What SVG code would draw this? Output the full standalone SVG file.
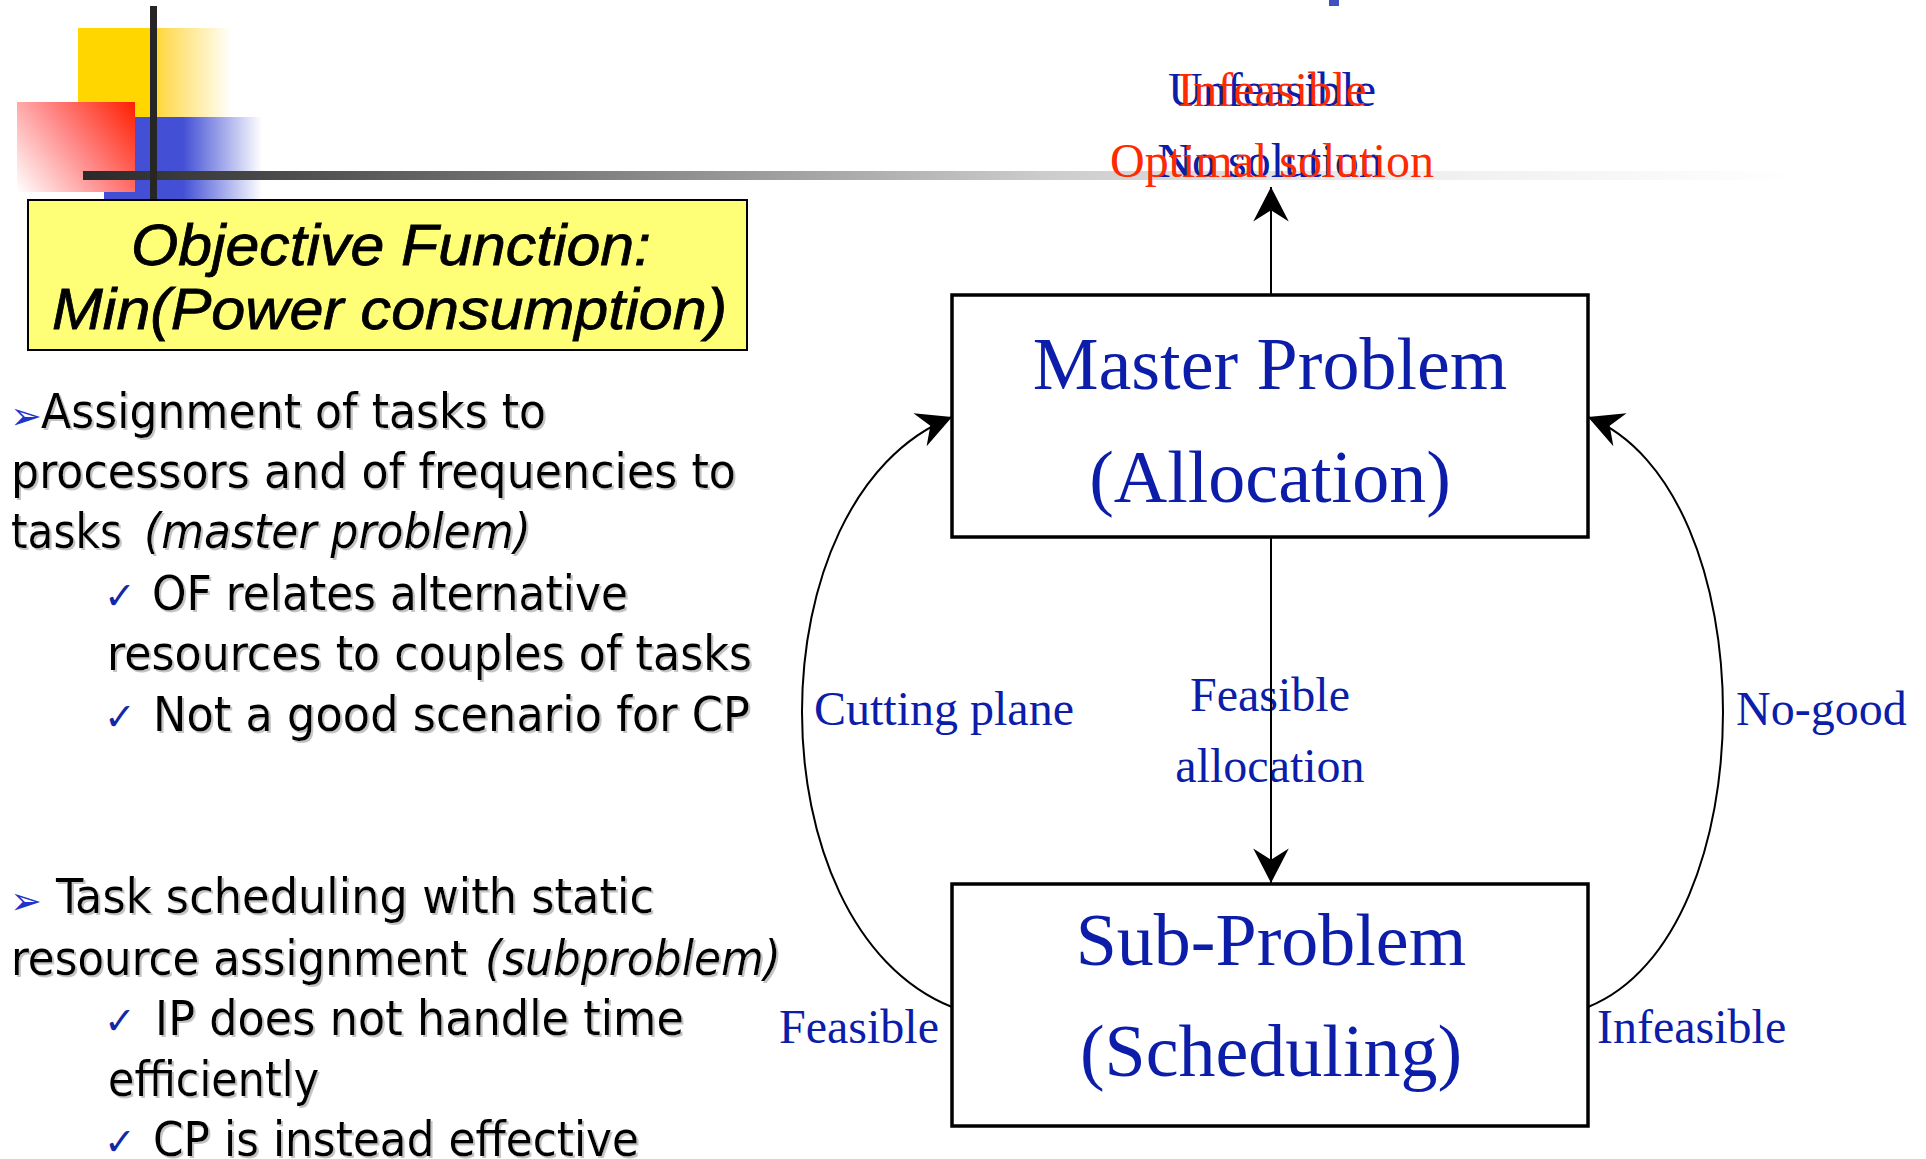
<svg xmlns="http://www.w3.org/2000/svg" width="1926" height="1159" viewBox="0 0 1926 1159">
  <style>
    .body{font-family:"DejaVu Sans Condensed","DejaVu Sans",sans-serif;font-stretch:condensed;font-size:48px;fill:#000}
    .it{font-style:italic}
    .chk{font-family:"DejaVu Sans",sans-serif;font-size:38px;fill:#1428A6}
    .bul{font-family:"DejaVu Sans",sans-serif;font-size:38px;fill:#2233CC}
    .lbl{font-family:"Liberation Serif","Times New Roman",serif;font-size:48px;fill:#0B1DA9}
    .red{fill:#FF2A00}
    .title{font-family:"Liberation Serif","Times New Roman",serif;font-size:74px;fill:#0B1DA9;text-anchor:middle}
    .box{fill:#fff;stroke:#000;stroke-width:3.5}
    .edge{fill:none;stroke:#000;stroke-width:2;marker-end:url(#arrow)}
    .obj{font-family:"Liberation Sans",Arial,sans-serif;font-style:italic;font-size:58px;fill:#000;stroke:#000;stroke-width:0.8}
  </style>
  <defs>
    <marker id="arrow" markerUnits="userSpaceOnUse" markerWidth="40" markerHeight="40" viewBox="-34 -18 36 36" refX="0" refY="0" orient="auto">
      <path d="M0,0 L-31,-16 L-21,0 L-31,16 Z" fill="#000"/>
    </marker>
    <linearGradient id="gYellow" gradientUnits="userSpaceOnUse" x1="78" y1="0" x2="232" y2="0">
      <stop offset="0" stop-color="#FFD600"/>
      <stop offset="0.47" stop-color="#FFD600"/>
      <stop offset="0.55" stop-color="#FFDA50"/>
      <stop offset="1" stop-color="#FFFFFF"/>
    </linearGradient>
    <linearGradient id="gBlue" gradientUnits="userSpaceOnUse" x1="104" y1="0" x2="262" y2="0">
      <stop offset="0" stop-color="#4350D5"/>
      <stop offset="0.5" stop-color="#4350D5"/>
      <stop offset="1" stop-color="#FFFFFF"/>
    </linearGradient>
    <linearGradient id="gRed" gradientUnits="userSpaceOnUse" x1="135" y1="102" x2="17" y2="192">
      <stop offset="0" stop-color="#FF1E00"/>
      <stop offset="0.5" stop-color="#FF8A8A"/>
      <stop offset="1" stop-color="#FFFFFF"/>
    </linearGradient>
    <linearGradient id="gBar" gradientUnits="userSpaceOnUse" x1="83" y1="0" x2="1800" y2="0">
      <stop offset="0" stop-color="#2A2A2A"/>
      <stop offset="0.18" stop-color="#5E5E5E"/>
      <stop offset="0.56" stop-color="#CCCCCC"/>
      <stop offset="0.77" stop-color="#EEEEEE"/>
      <stop offset="1" stop-color="#FFFFFF"/>
    </linearGradient>
    <filter id="shadow" x="-2%" y="-20%" width="104%" height="140%">
      <feFlood flood-color="#C4C4C4"/>
      <feComposite in2="SourceAlpha" operator="in"/>
      <feOffset dx="2" dy="2"/>
      <feMerge><feMergeNode/><feMergeNode in="SourceGraphic"/></feMerge>
    </filter>
  </defs>

  <rect width="1926" height="1159" fill="#fff"/>

  <!-- slide decoration -->
  <g id="decoration">
    <rect x="78" y="28" width="154" height="89" fill="url(#gYellow)"/>
    <rect x="104" y="117" width="158" height="83" fill="url(#gBlue)"/>
    <rect x="17" y="102" width="118" height="90" fill="url(#gRed)"/>
    <rect x="83" y="171" width="1717" height="9" fill="url(#gBar)"/>
    <rect x="150" y="6" width="7" height="194" fill="#262626"/>
    <rect x="1329" y="0" width="10" height="6" fill="#4050C0"/>
  </g>

  <!-- objective function box -->
  <g id="objective">
    <rect x="28" y="200" width="719" height="150" fill="#FFFF77" stroke="#000" stroke-width="2"/>
    <text class="obj" x="131" y="265" textLength="520" lengthAdjust="spacingAndGlyphs">Objective Function:</text>
    <text class="obj" x="52" y="329" textLength="675" lengthAdjust="spacingAndGlyphs">Min(Power consumption)</text>
  </g>

  <!-- bullet list -->
  <g id="bullets">
    <text class="bul" x="10" y="429">➢</text>
    <text class="chk" x="104" y="609">✓</text>
    <text class="chk" x="104" y="730">✓</text>
    <text class="bul" x="10" y="914">➢</text>
    <text class="chk" x="104" y="1034">✓</text>
    <text class="chk" x="104" y="1155">✓</text>
    <g filter="url(#shadow)">
      <text class="body" x="41" y="428" textLength="505" lengthAdjust="spacingAndGlyphs">Assignment of tasks to</text>
      <text class="body" x="11" y="488" textLength="725" lengthAdjust="spacingAndGlyphs">processors and of frequencies to</text>
      <text class="body" x="11" y="548" textLength="111" lengthAdjust="spacingAndGlyphs">tasks</text>
      <text class="body it" x="144" y="548" textLength="387" lengthAdjust="spacingAndGlyphs">(master problem)</text>
      <text class="body" x="152" y="610" textLength="476" lengthAdjust="spacingAndGlyphs">OF relates alternative</text>
      <text class="body" x="107" y="670" textLength="645" lengthAdjust="spacingAndGlyphs">resources to couples of tasks</text>
      <text class="body" x="153" y="731" textLength="597" lengthAdjust="spacingAndGlyphs">Not a good scenario for CP</text>
      <text class="body" x="56" y="913" textLength="598" lengthAdjust="spacingAndGlyphs">Task scheduling with static</text>
      <text class="body" x="11" y="975" textLength="456" lengthAdjust="spacingAndGlyphs">resource assignment</text>
      <text class="body it" x="485" y="975" textLength="296" lengthAdjust="spacingAndGlyphs">(subproblem)</text>
      <text class="body" x="155" y="1035" textLength="529" lengthAdjust="spacingAndGlyphs">IP does not handle time</text>
      <text class="body" x="108" y="1096" textLength="211" lengthAdjust="spacingAndGlyphs">efficiently</text>
      <text class="body" x="153" y="1156" textLength="486" lengthAdjust="spacingAndGlyphs">CP is instead effective</text>
    </g>
  </g>

  <!-- nodes -->
  <g id="master">
    <rect class="box" x="952" y="295" width="636" height="242"/>
    <text class="title" x="1270" y="389">Master Problem</text>
    <text class="title" x="1270" y="502">(Allocation)</text>
  </g>
  <g id="sub">
    <rect class="box" x="952" y="884" width="636" height="242"/>
    <text class="title" x="1271" y="965">Sub-Problem</text>
    <text class="title" x="1271" y="1076">(Scheduling)</text>
  </g>

  <!-- outcome labels above the master problem -->
  <g id="outcomes" text-anchor="middle">
    <text class="lbl" x="1272" y="106">Unfeasible</text>
    <text class="lbl" x="1270" y="177">No solution</text>
    <text class="lbl red" x="1272" y="106">Infeasible</text>
    <text class="lbl red" x="1272" y="177">Optimal solution</text>
  </g>

  <!-- connectors -->
  <g id="connectors">
    <text class="lbl" x="814" y="725">Cutting plane</text>
    <text class="lbl" x="1270" y="711" text-anchor="middle">Feasible</text>
    <text class="lbl" x="1270" y="782" text-anchor="middle">allocation</text>
    <text class="lbl" x="1736" y="725">No-good</text>
    <text class="lbl" x="779" y="1043">Feasible</text>
    <text class="lbl" x="1597" y="1043">Infeasible</text>
    <path class="edge" d="M1271,295 L1271,187"/>
    <path class="edge" d="M1271,537 L1271,883"/>
    <path class="edge" d="M952,1007 C752,927 752,497 952,417"/>
    <path class="edge" d="M1588,1007 C1768,935 1768,489 1588,417"/>
  </g>
</svg>
